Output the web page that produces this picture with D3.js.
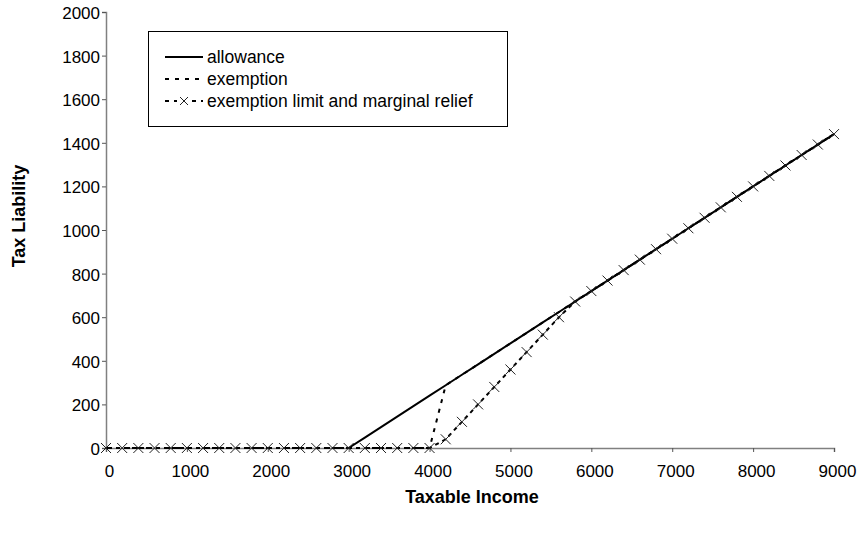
<!DOCTYPE html>
<html>
<head>
<meta charset="utf-8">
<script src="https://cdn.jsdelivr.net/npm/d3@7"></script>
<style>
  body { margin: 0; background: #fff; }
  text { font-family: "Liberation Sans", Arial, Helvetica, sans-serif; fill: #000; }
</style>
</head>
<body>
<div id="viz"></div>
<script>
// Data (taxable income every 200)
const income = [
  0, 200, 400, 600, 800, 1000, 1200, 1400, 1600, 1800,
  2000, 2200, 2400, 2600, 2800, 3000, 3200, 3400, 3600, 3800,
  4000, 4200, 4400, 4600, 4800, 5000, 5200, 5400, 5600, 5800,
  6000, 6200, 6400, 6600, 6800, 7000, 7200, 7400, 7600, 7800,
  8000, 8200, 8400, 8600, 8800, 9000
];
const allowance = [
  null, null, null, null, null, null, null, null, null, null,
  null, null, null, null, null, 0, 48, 96, 144, 192,
  240, 288, 336, 384, 432, 480, 528, 576, 624, 672,
  720, 768, 816, 864, 912, 960, 1008, 1056, 1104, 1152,
  1200, 1248, 1296, 1344, 1392, 1440
];
const exemption = [
  0, 0, 0, 0, 0, 0, 0, 0, 0, 0,
  0, 0, 0, 0, 0, 0, 0, 0, 0, 0,
  0, 288, 336, 384, 432, 480, 528, 576, 624, 672,
  720, 768, 816, 864, 912, 960, 1008, 1056, 1104, 1152,
  1200, 1248, 1296, 1344, 1392, 1440
];
const marginalRelief = [
  0, 0, 0, 0, 0, 0, 0, 0, 0, 0,
  0, 0, 0, 0, 0, 0, 0, 0, 0, 0,
  0, 40, 120, 200, 280, 360, 440, 520, 600, 672,
  720, 768, 816, 864, 912, 960, 1008, 1056, 1104, 1152,
  1200, 1248, 1296, 1344, 1392, 1440
];
const xTicks = [0, 1000, 2000, 3000, 4000, 5000, 6000, 7000, 8000, 9000];
const yTicks = [0, 200, 400, 600, 800, 1000, 1200, 1400, 1600, 1800, 2000];
const seriesNames = ['allowance', 'exemption', 'exemption limit and marginal relief'];

const W = 864, H = 539;
const margin = { top: 12, right: 30, bottom: 91, left: 106 };
const width = W - margin.left - margin.right;
const height = H - margin.top - margin.bottom;

const svg = d3.select('#viz')
  .append('svg')
  .attr('width', W)
  .attr('height', H);

const g = svg.append('g')
  .attr('transform', `translate(${margin.left},${margin.top})`);

const x = d3.scaleLinear().domain([0, 9000]).range([0, width]);
const y = d3.scaleLinear().domain([0, 2000]).range([height, 0]);

// Axes
const xAxis = g.append('g')
  .attr('transform', `translate(0,${height})`)
  .call(d3.axisBottom(x).tickValues(xTicks).tickSize(4).tickPadding(13).tickFormat(d3.format('d')));
const yAxis = g.append('g')
  .call(d3.axisLeft(y).tickValues(yTicks).tickSize(4).tickPadding(2).tickFormat(d3.format('d')));

[xAxis, yAxis].forEach(a => {
  a.select('.domain').attr('stroke', '#808080').attr('stroke-width', 1.5);
  a.selectAll('.tick line').attr('stroke', '#555');
  a.selectAll('.tick text')
    .attr('font-size', 17)
    .attr('font-family', '"Liberation Sans", Arial, sans-serif')
    .attr('fill', '#000');
});
xAxis.selectAll('.tick text').attr('dx', 3);
yAxis.selectAll('.tick text').attr('dy', '0.38em');

// Axis titles
svg.append('text')
  .attr('x', 472)
  .attr('y', 503)
  .attr('text-anchor', 'middle')
  .attr('font-size', 18)
  .attr('font-weight', 'bold')
  .text('Taxable Income');
svg.append('text')
  .attr('transform', 'rotate(-90)')
  .attr('x', -216)
  .attr('y', 25)
  .attr('text-anchor', 'middle')
  .attr('font-size', 18)
  .attr('font-weight', 'bold')
  .text('Tax Liability');

const lineFor = vals => d3.line()
  .defined((d, i) => vals[i] !== null)
  .x(d => x(d))
  .y((d, i) => y(vals[i]));

// exemption limit and marginal relief (dashed with X markers)
g.append('path')
  .datum(income)
  .attr('fill', 'none')
  .attr('stroke', '#000')
  .attr('stroke-width', 2)
  .attr('stroke-dasharray', '4,4')
  .attr('stroke-dashoffset', -2)
  .attr('d', lineFor(marginalRelief));

// exemption (dotted)
g.append('path')
  .datum(income)
  .attr('fill', 'none')
  .attr('stroke', '#000')
  .attr('stroke-width', 2)
  .attr('stroke-dasharray', '4,6')
  .attr('d', lineFor(exemption));

// allowance (solid)
g.append('path')
  .datum(income)
  .attr('fill', 'none')
  .attr('stroke', '#000')
  .attr('stroke-width', 2)
  .attr('d', lineFor(allowance));

// X markers
const s = 5;
g.selectAll('path.marker')
  .data(income)
  .enter()
  .append('path')
  .attr('class', 'marker')
  .attr('fill', 'none')
  .attr('stroke', '#222')
  .attr('stroke-width', 1)
  .attr('d', (d, i) => {
    const cx = x(d), cy = y(marginalRelief[i]);
    return `M${cx - s},${cy - s}L${cx + s},${cy + s}M${cx - s},${cy + s}L${cx + s},${cy - s}`;
  });

// Legend
const legend = svg.append('g');
legend.append('rect')
  .attr('x', 148.5)
  .attr('y', 31.5)
  .attr('width', 359)
  .attr('height', 95)
  .attr('fill', '#fff')
  .attr('stroke', '#000')
  .attr('stroke-width', 1);

const rowY = [57, 79, 101];
const dashes = [null, '4,6', '4,5'];
seriesNames.forEach((name, i) => {
  legend.append('line')
    .attr('x1', 165)
    .attr('x2', 203)
    .attr('y1', rowY[i])
    .attr('y2', rowY[i])
    .attr('stroke', '#000')
    .attr('stroke-width', 2)
    .attr('stroke-dasharray', dashes[i]);
  legend.append('text')
    .attr('x', 207)
    .attr('y', rowY[i] + 6)
    .attr('font-size', 17.5)
    .text(name);
});
// legend marker, drawn over a white patch so it sits in the gap
legend.append('rect')
  .attr('x', 177).attr('y', rowY[2] - 6).attr('width', 14).attr('height', 12)
  .attr('fill', '#fff');
legend.append('path')
  .attr('fill', 'none')
  .attr('stroke', '#222')
  .attr('stroke-width', 1)
  .attr('d', `M${184 - 4},${rowY[2] - 4}L${184 + 4},${rowY[2] + 4}M${184 - 4},${rowY[2] + 4}L${184 + 4},${rowY[2] - 4}`);
</script>
</body>
</html>
